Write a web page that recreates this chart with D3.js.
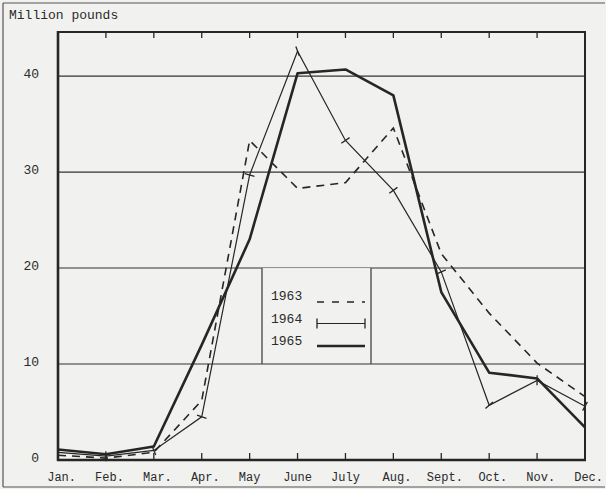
<!DOCTYPE html>
<html>
<head>
<meta charset="utf-8">
<script src="https://cdn.jsdelivr.net/npm/d3@7"></script>
<style>
  html, body { margin: 0; padding: 0; background: #f1f1ef; }
  svg { display: block; }
  text { font-family: "Liberation Mono", "DejaVu Sans Mono", monospace; fill: #2a2a2a; }
</style>
</head>
<body>
<svg id="chart" width="606" height="489"></svg>
<script>
// Monthly quantities, million pounds
const months = ["Jan.", "Feb.", "Mar.", "Apr.", "May", "June", "July", "Aug.", "Sept.", "Oct.", "Nov.", "Dec."];
const years = ["1963", "1964", "1965"];
const values1963 = [0.5, 0.2, 0.8, 6.2, 33.3, 28.3, 28.9, 34.6, 21.5, 15.3, 10.1, 6.6];
const values1964 = [0.8, 0.4, 1.0, 4.5, 29.7, 42.6, 33.3, 28.1, 19.6, 5.7, 8.3, 5.6];
const values1965 = [1.1, 0.6, 1.4, 12.0, 23.0, 40.3, 40.7, 38.0, 17.5, 9.1, 8.5, 3.4];
const yTicks = [0, 10, 20, 30, 40];
const yMax = 44.6;

const svg = d3.select("#chart");
const ink = "#262626";

const x = d3.scalePoint().domain(months).range([58, 585]);
const y = d3.scaleLinear().domain([0, yMax]).range([460, 32]);

// outer border of the figure
const border = svg.append("g").attr("stroke", "#555").attr("stroke-width", 1.2);
border.append("line").attr("x1", 3).attr("x2", 3).attr("y1", 3).attr("y2", 487);
border.append("line").attr("x1", 3).attr("x2", 605).attr("y1", 3).attr("y2", 3);
border.append("line").attr("x1", 3).attr("x2", 605).attr("y1", 487).attr("y2", 487);

// unit label
svg.append("text").attr("x", 9).attr("y", 19).attr("font-size", 13).text("Million pounds");

// horizontal rules at each labelled value
svg.append("g").selectAll("line").data(yTicks.filter(d => d > 0)).join("line")
  .attr("x1", x.range()[0]).attr("x2", x.range()[1])
  .attr("y1", d => y(d)).attr("y2", d => y(d))
  .attr("stroke", "#333").attr("stroke-width", 1.1);

// value labels
svg.append("g").selectAll("text").data(yTicks).join("text")
  .attr("x", 39).attr("y", d => y(d) + 2)
  .attr("text-anchor", "end").attr("font-size", 13)
  .text(d => d);

// legend box between the 10 and 20 rules
const lg = svg.append("g");
lg.append("rect").attr("x", 262).attr("y", y(20)).attr("width", 109).attr("height", y(10) - y(20) - 2)
  .attr("fill", "#f1f1ef").attr("stroke", "none");
lg.selectAll("line.side").data([262, 371]).join("line").attr("class", "side")
  .attr("x1", d => d).attr("x2", d => d).attr("y1", y(20)).attr("y2", y(10))
  .attr("stroke", "#444").attr("stroke-width", 1.3);

// month ticks, top (downward) and bottom (upward)
const inner = months.slice(1, -1);
svg.append("g").selectAll("line").data(inner).join("line")
  .attr("x1", d => x(d)).attr("x2", d => x(d)).attr("y1", 32).attr("y2", 38)
  .attr("stroke", ink).attr("stroke-width", 1.3);
svg.append("g").selectAll("line").data(inner).join("line")
  .attr("x1", d => x(d)).attr("x2", d => x(d)).attr("y1", 460).attr("y2", 453)
  .attr("stroke", ink).attr("stroke-width", 1.3);

// month labels (word centred on tick, period trails)
svg.append("g").selectAll("text").data(months).join("text")
  .attr("x", d => x(d) + (d.endsWith(".") ? 3.6 : 0))
  .attr("y", 481).attr("text-anchor", "middle").attr("font-size", 12)
  .text(d => d);

// series lines
const line = d3.line().x((d, i) => x(months[i])).y(d => y(d));

svg.append("path").datum(values1963).attr("d", line)
  .attr("fill", "none").attr("stroke", ink).attr("stroke-width", 1.6)
  .attr("stroke-dasharray", "8,6");
svg.append("path").datum(values1964).attr("d", line)
  .attr("fill", "none").attr("stroke", ink).attr("stroke-width", 1.2);
svg.append("path").datum(values1965).attr("d", line)
  .attr("fill", "none").attr("stroke", ink).attr("stroke-width", 2.6)
  .attr("stroke-linejoin", "round");

// 1964 point marks: short bars across the line
const pts = values1964.map((v, i) => [x(months[i]), y(v)]);
const marks = [];
pts.forEach((p, i) => {
  if (i === 0) return;
  const a = pts[i - 1], b = pts[Math.min(i + 1, pts.length - 1)];
  let dx = b[0] - a[0], dy = b[1] - a[1];
  const len = Math.hypot(dx, dy) || 1;
  dx /= len; dy /= len;
  const h = 5;
  marks.push([p[0] - dy * h, p[1] + dx * h, p[0] + dy * h, p[1] - dx * h]);
});
svg.append("g").selectAll("line").data(marks).join("line")
  .attr("x1", d => d[0]).attr("y1", d => d[1]).attr("x2", d => d[2]).attr("y2", d => d[3])
  .attr("stroke", ink).attr("stroke-width", 1.3);

// plot frame
svg.append("g").call(g => {
  g.append("line").attr("x1", 58).attr("x2", 58).attr("y1", 31).attr("y2", 461).attr("stroke", ink).attr("stroke-width", 2.6);
  g.append("line").attr("x1", 57).attr("x2", 586).attr("y1", 460).attr("y2", 460).attr("stroke", ink).attr("stroke-width", 2.6);
  g.append("line").attr("x1", 57).attr("x2", 586).attr("y1", 32).attr("y2", 32).attr("stroke", ink).attr("stroke-width", 2);
  g.append("line").attr("x1", 585).attr("x2", 585).attr("y1", 31).attr("y2", 461).attr("stroke", ink).attr("stroke-width", 2);
});

// legend entries
const legendRows = [
  { label: years[0], dash: "7,8", width: 1.6, ends: false },
  { label: years[1], dash: null, width: 1.2, ends: true },
  { label: years[2], dash: null, width: 2.6, ends: false }
];
legendRows.forEach((r, i) => {
  const ty = 300 + i * 22.5;
  lg.append("text").attr("x", 271).attr("y", ty).attr("font-size", 13).text(r.label);
  const ly = ty + 1 + (i === 0 ? 1 : 0);
  const l = lg.append("line").attr("x1", 317).attr("x2", 365).attr("y1", ly).attr("y2", ly)
    .attr("stroke", ink).attr("stroke-width", r.width);
  if (r.dash) l.attr("stroke-dasharray", r.dash);
  if (r.ends) {
    [317, 365].forEach(ex => lg.append("line").attr("x1", ex).attr("x2", ex)
      .attr("y1", ly - 5).attr("y2", ly + 5).attr("stroke", ink).attr("stroke-width", 1.3));
  }
});
</script>
</body>
</html>
